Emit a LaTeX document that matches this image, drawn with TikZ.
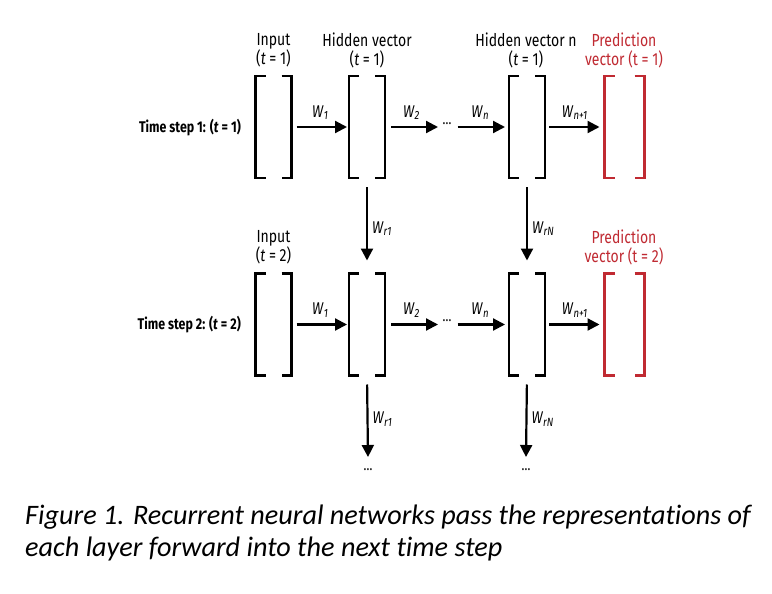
\documentclass[tikz,border=0pt]{standalone}
\usepackage{fontspec}
\setmainfont{Fira Sans}[FakeStretch=0.8]
\newfontfamily\capfont{Carlito}[Ligatures=NoCommon,Contextuals=NoAlternate]
\usetikzlibrary{arrows.meta}
\definecolor{predred}{RGB}{192,42,50}
\tikzset{
  vec/.style={draw=none,minimum width=36pt,minimum height=102pt,inner sep=0pt,outer sep=0pt},
  lbl/.style={align=center,font=\fontsize{17.5}{19}\selectfont,inner sep=0pt},
  wlbl/.style={font=\fontsize{17}{18}\selectfont,inner sep=1pt},
  rowlbl/.style={font=\fontsize{15.5}{18}\selectfont\bfseries,anchor=east,inner sep=0pt},
  dotsn/.style={font=\fontsize{15}{16}\selectfont,inner sep=0pt},
  conn/.style={line width=2.2pt,-{Triangle[length=12pt,width=12pt]}},
  brkline/.style={line width=2.4pt,line join=miter}
}
\newcommand\drawbrk[2][black]{%
  \draw[brkline,#1] ([xshift=10pt]#2.north west) -| (#2.south west) -- ++(10pt,0pt);
  \draw[brkline,#1] ([xshift=-10pt]#2.north east) -| (#2.south east) -- ++(-10pt,0pt);}
\newcommand\Wl[1]{\textit{W}\textsubscript{\textit{#1}}}
\begin{document}
\begin{tikzpicture}[x=1pt,y=-1pt]
\path[use as bounding box,fill=white] (0,0) rectangle (772,594);
% row 1
\node[vec] (in1) at (273.5,127) {};
\node[vec] (h1) at (367,127) {};
\node[vec] (hn1) at (527,127) {};
\node[vec,minimum width=40pt] (p1) at (624.5,127) {};
% row 2
\node[vec] (in2) at (273.5,324.5) {};
\node[vec] (h2) at (367,324.5) {};
\node[vec] (hn2) at (527,324.5) {};
\node[vec,minimum width=40pt] (p2) at (624.5,324.5) {};
\drawbrk{in1}\drawbrk{h1}\drawbrk{hn1}\drawbrk[predred]{p1}
\drawbrk{in2}\drawbrk{h2}\drawbrk{hn2}\drawbrk[predred]{p2}
% top labels
\node[lbl] (lin1) at (273.5,50.5) {Input\\(\textit{t} = 1)};
\node[lbl] (lh1) at (367,50.5) {Hidden vector\\(\textit{t} = 1)};
\node[lbl] (lhn1) at (526,50.5) {Hidden vector n\\(\textit{t} = 1)};
\node[lbl,text=predred] (lp1) at (624,50.5) {Prediction\\vector (t = 1)};
\node[lbl] (lin2) at (273.5,247) {Input\\(\textit{t} = 2)};
\node[lbl,text=predred] (lp2) at (624,247) {Prediction\\vector (t = 2)};
\node[rowlbl] (r1) at (241,128) {Time step 1: (\textit{t} = 1)};
\node[rowlbl] (r2) at (241,325) {Time step 2: (\textit{t} = 2)};
% dots
\node[dotsn] (d1) at (447,124) {\dots};
\node[dotsn] (d2) at (447,321) {\dots};
\node[dotsn] (d3) at (368,470) {\dots};
\node[dotsn] (d4) at (526,470) {\dots};
\coordinate (e1) at (438,127);
\coordinate (e2) at (438,324.5);
\coordinate (e3) at (368,457);
\coordinate (e4) at (526,457);
% row 1 arrows
\draw[conn,shorten <=5pt,shorten >=2pt] (in1.east) -- node[wlbl,above=5pt] {\Wl{1}} (h1.west);
\draw[conn,shorten <=6pt] (h1.east) -- node[wlbl,above=5pt] {\Wl{2}} (e1);
\draw[conn,shorten <=6pt,shorten >=4pt] (d1.east |- hn1.west) -- node[wlbl,above=5pt] {\Wl{n}} (hn1.west);
\draw[conn,shorten <=4pt,shorten >=5pt] (hn1.east) -- node[wlbl,above=5pt] {\Wl{n+1}} (p1.west);
% row 2 arrows
\draw[conn,shorten <=5pt,shorten >=2pt] (in2.east) -- node[wlbl,above=5pt] {\Wl{1}} (h2.west);
\draw[conn,shorten <=6pt] (h2.east) -- node[wlbl,above=5pt] {\Wl{2}} (e2);
\draw[conn,shorten <=6pt,shorten >=4pt] (d2.east |- hn2.west) -- node[wlbl,above=5pt] {\Wl{n}} (hn2.west);
\draw[conn,shorten <=4pt,shorten >=5pt] (hn2.east) -- node[wlbl,above=5pt] {\Wl{n+1}} (p2.west);
% vertical arrows
\draw[conn,shorten <=9pt,shorten >=13pt] (h1.south) -- node[wlbl,right=3pt,yshift=-3pt] {\Wl{r1}} (h2.north);
\draw[conn,shorten <=9pt,shorten >=13pt] (hn1.south) -- node[wlbl,right=3pt,yshift=-3pt] {\Wl{rN}} (hn2.north);
\draw[conn,shorten <=9pt] (h2.south) -- node[wlbl,right=3pt,yshift=-3pt] {\Wl{r1}} (e3);
\draw[conn,shorten <=9pt] (hn2.south) -- node[wlbl,right=3pt,yshift=-3pt] {\Wl{rN}} (e4);
% caption
\node[anchor=north west,align=left,inner sep=0pt,font=\capfont\itshape\fontsize{28.2}{32}\selectfont] (cap) at (25,505)
 {Figure 1. Recurrent neural networks pass the representations of\\each layer forward into the next time step};
\end{tikzpicture}
\end{document}
